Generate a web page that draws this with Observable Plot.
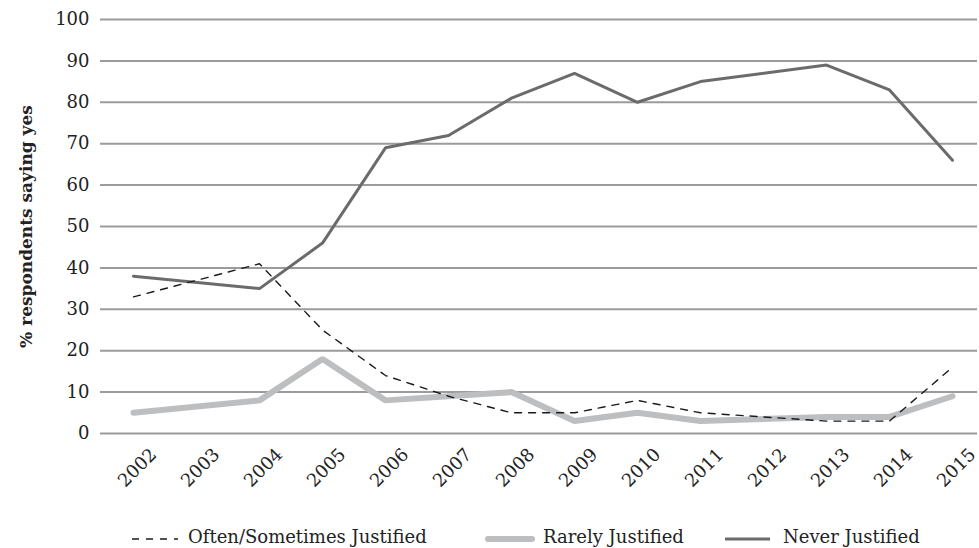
<!DOCTYPE html>
<html>
<head>
<meta charset="utf-8">
<script src="https://cdn.jsdelivr.net/npm/d3@7"></script>
<script src="https://cdn.jsdelivr.net/npm/@observablehq/plot@0.6"></script>
<style>
  html, body { margin: 0; padding: 0; background: #fff; overflow: hidden; }
  #chart svg { display: block; overflow: visible; }
  #legend { position: relative; height: 43px; width: 979px; font-family: "DejaVu Serif", serif; font-size: 18px; color: #222; }
  #legend .item { position: absolute; top: 10px; height: 43px; display: flex; align-items: center; white-space: nowrap; }
  #legend svg { display: block; }
</style>
</head>
<body>
<div id="chart"></div>
<div id="legend"></div>
<script>
// Category tick labels on the x axis
const yearLabels = ["2002","2003","2004","2005","2006","2007","2008","2009","2010","2011","2012","2013","2014","2015"];
// Years that carry survey data (2003 and 2012 have none)
const dataYears = ["2002","2004","2005","2006","2007","2008","2009","2010","2011","2013","2014","2015"];
const oftenSometimes = [33, 41, 25, 14, 9, 5, 5, 8, 5, 3, 3, 16];
const rarely = [5, 8, 18, 8, 9, 10, 3, 5, 3, 4, 4, 9];
const never = [38, 35, 46, 69, 72, 81, 87, 80, 85, 89, 83, 66];
const yTicks = [0, 10, 20, 30, 40, 50, 60, 70, 80, 90, 100];
const seriesNames = ["Often/Sometimes Justified", "Rarely Justified", "Never Justified"];
const yLabel = "% respondents saying yes";

const toRows = (vals) => dataYears.map((y, i) => ({year: y, value: vals[i]}));
const oftenRows = toRows(oftenSometimes);
const rarelyRows = toRows(rarely);
const neverRows = toRows(never);

const plot = Plot.plot({
  width: 979,
  height: 505,
  marginLeft: 100,
  marginRight: 2,
  marginTop: 19,
  marginBottom: 72,
  style: {fontFamily: "'DejaVu Serif', serif", color: "#222", background: "#fff"},
  x: {type: "point", domain: yearLabels, range: [133, 952], padding: 0},
  y: {domain: [0, 100]},
  marks: [
    Plot.ruleY(yTicks, {stroke: "#9b9b9b", strokeWidth: 2}),
    Plot.axisY(yTicks, {tickSize: 0, tickPadding: 11, fontSize: 18, label: null}),
    Plot.axisX(yearLabels, {tickSize: 0, tickPadding: 0, tickRotate: -45, fontSize: 18, label: null, dx: 20, dy: 18}),
    Plot.text([yLabel], {frameAnchor: "left", textAnchor: "middle", dx: -74, rotate: -90, fontSize: 17, fontWeight: "bold", fill: "#222"}),
    Plot.line(rarelyRows, {x: "year", y: "value", stroke: "#bdbec0", strokeWidth: 6, strokeLinejoin: "miter", strokeLinecap: "round"}),
    Plot.line(neverRows, {x: "year", y: "value", stroke: "#6b6b6b", strokeWidth: 3, strokeLinejoin: "miter"}),
    Plot.line(oftenRows, {x: "year", y: "value", stroke: "#1a1a1a", strokeWidth: 1.4, strokeDasharray: "7,7"})
  ]
});
document.getElementById("chart").appendChild(plot);

// Legend below the SVG
const legend = d3.select("#legend");
const swatches = [
  {left: 132, w: 46, stroke: "#1a1a1a", sw: 1.6, dash: "7,7", cap: "butt"},
  {left: 485, w: 50, stroke: "#bdbec0", sw: 6, dash: null, cap: "round"},
  {left: 725, w: 45, stroke: "#6b6b6b", sw: 3, dash: null, cap: "butt"}
];
const textLefts = [188, 543, 783];
swatches.forEach((s, i) => {
  const it = legend.append("div").attr("class", "item").style("left", s.left + "px");
  const svg = it.append("svg").attr("width", s.w).attr("height", 14);
  svg.append("line").attr("x1", s.cap === "round" ? 3 : 0).attr("x2", s.cap === "round" ? s.w - 3 : s.w)
    .attr("y1", 9).attr("y2", 9)
    .attr("stroke", s.stroke).attr("stroke-width", s.sw)
    .attr("stroke-dasharray", s.dash).attr("stroke-linecap", s.cap);
  legend.append("div").attr("class", "item").style("left", textLefts[i] + "px").text(seriesNames[i]);
});
</script>
</body>
</html>
